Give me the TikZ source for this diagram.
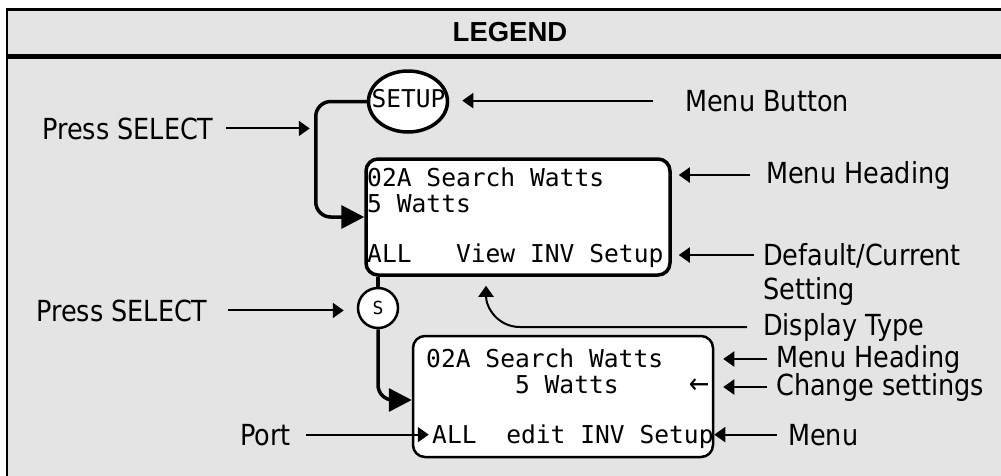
\documentclass[tikz,border=0pt]{standalone}
\usepackage{fontspec}
\setmainfont{DejaVu Sans}[FakeStretch=0.88]
\setmonofont{DejaVu Sans Mono}
\newfontfamily\headfont{Liberation Sans}
\usepackage{tikz}
\usetikzlibrary{shapes.geometric, arrows.meta, positioning}
\definecolor{panel}{RGB}{228,228,228}
\tikzstyle{frame} = [draw=black, line width=2.5pt, fill=panel]
\tikzstyle{lcd} = [rectangle, rounded corners=12pt, draw=black, fill=white, inner sep=0pt]
\tikzstyle{lcdtext} = [anchor=base west, inner sep=0pt, font=\ttfamily\fontsize{24.6}{28}\selectfont]
\tikzstyle{note} = [anchor=base west, inner sep=0pt, font=\fontsize{29}{34}\selectfont]
\tikzstyle{pointer} = [-{Triangle[length=11pt,width=15pt]}, line width=2pt]
\tikzstyle{flow} = [-{Triangle[length=23pt,width=23pt]}, line width=3.5pt, rounded corners=15pt]

\begin{document}
\begin{tikzpicture}[x=1pt, y=-1pt]

    \useasboundingbox (0,0) rectangle (1001,475);
    \fill[white] (0,0) rectangle (1001,475);

    \draw[frame] (7,9.5) rectangle (1015,55.5);
    \draw[frame] (7,58) rectangle (1015,490);
    \node (title) [anchor=base, inner sep=0pt, font=\headfont\bfseries\fontsize{27.5}{30}\selectfont] at (510,41) {LEGEND};

    % button and displays
    \node (setup) [ellipse, draw=black, fill=white, line width=3.5pt, minimum width=79pt, minimum height=61pt] at (408,101.5) {};
    \node (setuptxt) [lcdtext, anchor=base, font=\ttfamily\fontsize{24.5}{28}\selectfont] at (408.5,107) {SETUP};

    \node (disp1) [lcd, line width=3.5pt, minimum width=304pt, minimum height=116pt] at (518,217) {};
    \node (d1head) [lcdtext] at (367,186) {02A Search Watts};
    \node (d1val) [lcdtext] at (367,212) {5 Watts};
    \node (d1type) [lcdtext] at (367,262) {ALL\ \ \ View INV Setup};

    \node (sel) [circle, draw=black, fill=white, line width=2.5pt, minimum size=40pt, inner sep=0pt, font=\ttfamily\fontsize{18}{20}\selectfont] at (378,308) {S};

    \node (disp2) [lcd, line width=2.5pt, minimum width=300pt, minimum height=121pt] at (563,396.5) {};
    \node (d2head) [lcdtext] at (426,367) {02A Search Watts};
    \node (d2val) [lcdtext] at (426,393) {\ \ \ \ \ \ 5 Watts\ \ \ \ \ \hspace{-4pt}{\rmfamily\fontsize{28}{28}\selectfont ←}};
    \node (d2menu) [lcdtext] at (432,443) {ALL\ \ edit INV Setup};

    % labels
    \node (press1) [note] at (42,139) {Press SELECT};
    \node (press2) [note] at (36,321) {Press SELECT};
    \node (mbtn) [note] at (685,111) {Menu Button};
    \node (mhead1) [note] at (766,183) {Menu Heading};
    \node (dflt) [note, anchor=north west, align=left] at (763,243) {Default/Current\\Setting};
    \node (dtype) [note] at (763,335) {Display Type};
    \node (mhead2) [note] at (776,367) {Menu Heading};
    \node (chg) [note] at (776,395) {Change settings};
    \node (menu) [note] at (788,445) {Menu};
    \node (port) [note] at (240,445) {Port};

    % flow
    \coordinate (turn1) at ([xshift=-51pt]setup.west);
    \draw [flow] (setup.west) -- (turn1) |- (disp1.west);
    \draw [line width=3.5pt] (disp1.south -| sel) -- (sel.north);
    \draw [flow] (sel.south) |- ([yshift=-3.5pt]disp2.west);

    \draw [pointer, shorten >=6pt] ([xshift=12pt]press1.east) -- (turn1 |- press1.east);
    \draw [pointer, shorten >=13pt] ([xshift=20pt]press2.east) -- (sel.west |- press2.east);
    \draw [pointer, shorten >=13pt] ([xshift=-32pt]mbtn.west) -- (setup.east |- mbtn.west);
    \draw [pointer, shorten >=7pt] ([xshift=-16pt]mhead1.west) -- (disp1.east |- mhead1.west);
    \coordinate (dfltpt) at ([yshift=-12pt]dflt.north west);
    \draw [pointer, shorten >=7pt] ([xshift=-9pt]dfltpt) -- (disp1.east |- dfltpt);
    \draw [pointer] ([xshift=-16pt]dtype.west) -- ++(-227,0) .. controls +(-22,0) and +(0,22) .. ([shift={(-32pt,-9pt)}]disp1.south);
    \draw [pointer, shorten >=9pt] ([xshift=-9pt]mhead2.west) -- (disp2.east |- mhead2.west);
    \draw [pointer, shorten >=9pt] ([xshift=-9pt]chg.west) -- (disp2.east |- chg.west);
    \draw [pointer] ([xshift=-11pt]menu.west) -- (disp2.east |- menu.west);
    \draw [pointer, shorten >=-17pt] ([xshift=15pt]port.east) -- (disp2.west |- port.east);

\end{tikzpicture}
\end{document}
